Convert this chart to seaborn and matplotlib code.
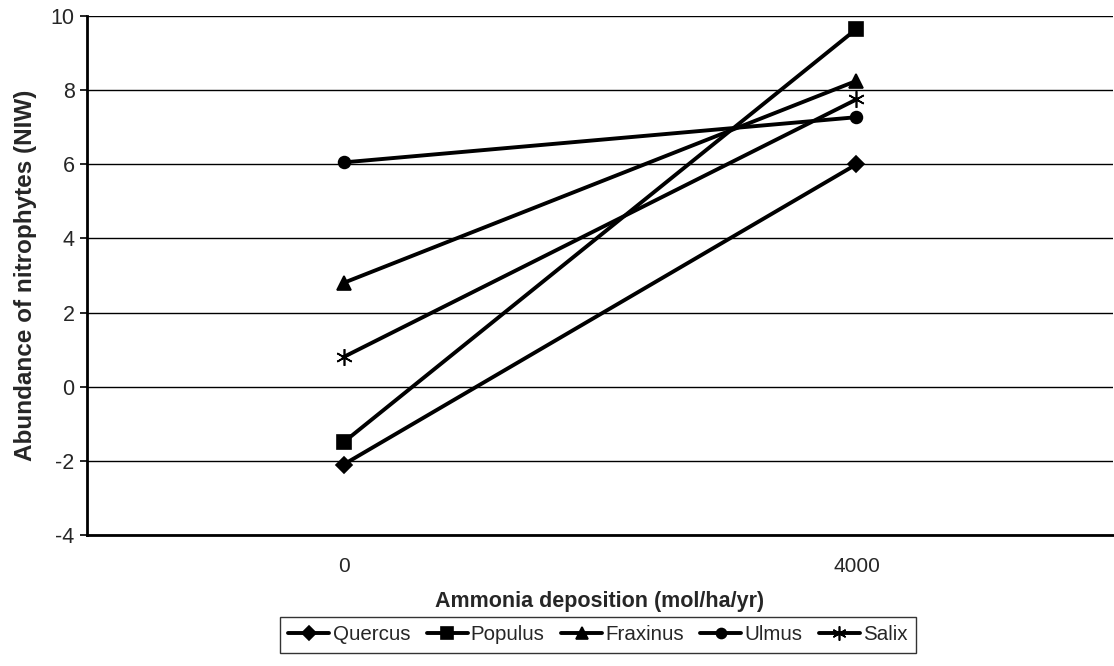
import matplotlib
matplotlib.use("Agg")
import matplotlib.pyplot as plt
import seaborn as sns
import pandas as pd
from matplotlib.lines import Line2D

deposition = ["0", "4000"]
quercus = [-2.1, 6.0]
populus = [-1.5, 9.65]
fraxinus = [2.8, 8.25]
ulmus = [6.05, 7.27]
salix = [0.8, 7.75]

species = ["Quercus", "Populus", "Fraxinus", "Ulmus", "Salix"]
values = [quercus, populus, fraxinus, ulmus, salix]

rows = []
for name, vals in zip(species, values):
    for x, y in zip(deposition, vals):
        rows.append({"deposition": x, "NIW": y, "species": name})
df = pd.DataFrame(rows)

sns.set_style("white")
plt.rcParams["font.family"] = ["Liberation Sans", "DejaVu Sans"]
plt.rcParams["axes.unicode_minus"] = False

fig = plt.figure(figsize=(11.14, 6.66), dpi=100)
ax = fig.add_axes([0.0781, 0.1967, 0.921, 0.7793])

markers = {"Quercus": "D", "Populus": "s", "Fraxinus": "^", "Ulmus": "o", "Salix": (6, 2, 0)}
sizes = {"Quercus": 8, "Populus": 10.5, "Fraxinus": 10, "Ulmus": 8.5, "Salix": 12}

for name in species:
    sub = df[df["species"] == name]
    sns.lineplot(data=sub, x="deposition", y="NIW", color="black", linewidth=2.8,
                 marker=markers[name], markersize=sizes[name],
                 markerfacecolor="black", markeredgecolor="black",
                 markeredgewidth=1.2, ax=ax, sort=False, zorder=3)

ax.set_ylim(-4, 10)
ax.set_yticks(range(-4, 11, 2))
ax.yaxis.grid(True, color="black", linewidth=1.0)
ax.set_axisbelow(True)

ax.set_xlim(-0.5, 1.5)
ax.set_xticks([0, 1])
ax.set_xticklabels(deposition)
ax.set_xticks([-0.5, 0.5, 1.5], minor=True)
ax.tick_params(axis="x", which="major", length=0, pad=16, labelsize=15)
ax.tick_params(axis="x", which="minor", length=7, width=0.8, color="black", direction="out")
ax.tick_params(axis="y", length=5, width=1.2, color="black", direction="out", labelsize=15.5, pad=4)
ax.tick_params(axis="both", left=True, bottom=True)

for side in ["top", "right"]:
    ax.spines[side].set_visible(False)
for side in ["left", "bottom"]:
    ax.spines[side].set_color("black")
    ax.spines[side].set_linewidth(2.0)

ax.set_xlabel("Ammonia deposition (mol/ha/yr)", fontsize=15.5, fontweight="bold", labelpad=11)
ax.set_ylabel("Abundance of nitrophytes (NIW)", fontsize=17.5, fontweight="bold", labelpad=10)

handles = [Line2D([], [], color="black", linewidth=2.8, marker=markers[s],
                  markersize=sizes[s] * 0.85, markerfacecolor="black",
                  markeredgecolor="black", markeredgewidth=1.2) for s in species]
leg = fig.legend(handles, species, loc="center", bbox_to_anchor=(0.5368, 0.047),
                 ncol=5, frameon=True, fancybox=False, fontsize=14.8,
                 handlelength=2.0, handletextpad=0.15, columnspacing=0.8,
                 borderpad=0.42, borderaxespad=0)
leg.get_frame().set_edgecolor("black")
leg.get_frame().set_linewidth(1.0)

fig.savefig("out.png", dpi=100, facecolor="white")
